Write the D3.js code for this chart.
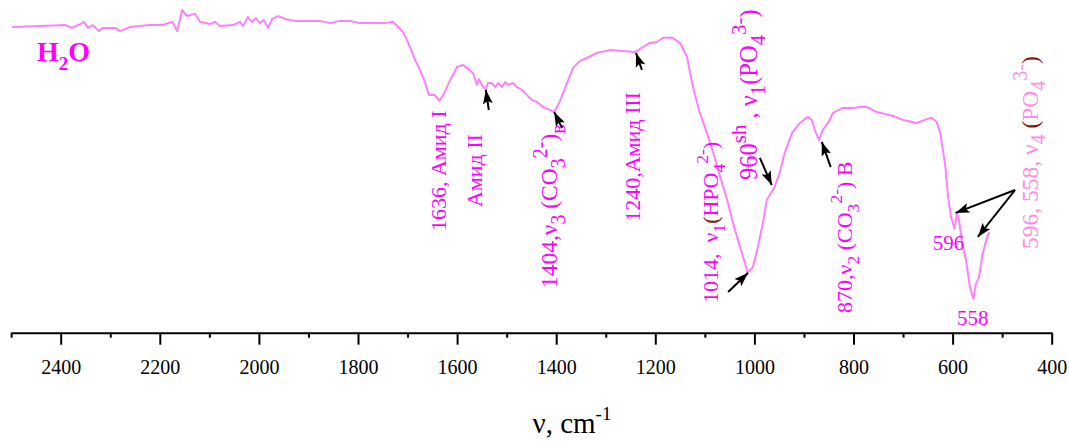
<!DOCTYPE html>
<html>
<head>
<meta charset="utf-8">
<script src="https://cdn.jsdelivr.net/npm/d3@7"></script>
<style>
  body { margin: 0; background: #fff; }
  text { font-family: "Liberation Serif", "Times New Roman", serif; white-space: pre; }
</style>
</head>
<body>
<svg id="chart" width="1069" height="441"></svg>
<script>
// IR spectrum: wavenumber (cm-1) and relative transmittance (%)
const wavenumber = [2498,2442,2391,2377,2361,2353,2345,2335,2323,2315,2290,2280,2260,2240,2220,2194,2175,2165,2155,2145,2129,2119,2099,2089,2079,2052,2038,2032,2022,2014,2006,1998,1990,1982,1973,1961,1947,1927,1877,1856,1836,1816,1796,1766,1746,1729,1719,1709,1701,1691,1685,1675,1665,1657,1645,1636,1628,1614,1600,1588,1580,1568,1560,1556,1550,1542,1538,1530,1523,1517,1509,1503,1497,1487,1479,1469,1459,1449,1439,1427,1413,1404,1393,1378,1366,1352,1338,1318,1291,1265,1240,1225,1211,1197,1184,1166,1150,1136,1124,1110,1096,1083,1069,1055,1043,1029,1019,1014,1003,993,983,975,965,960,949,939,924,908,892,884,878,870,862,848,842,822,801,787,773,753,720,700,672,652,642,632,625,615,609,603,596,591,587,581,573,565,558,553,547,540,532,526];
const transmittance = [94.7,95.0,95.3,94.4,95.6,96.3,94.4,95.3,93.4,94.4,94.4,93.4,94.7,95.0,95.3,95.3,96.3,93.4,100,98.1,98.8,96.3,95.6,96.3,95.0,95.3,96.3,95.0,97.8,96.3,97.5,95.9,96.9,94.4,97.2,98.1,97.2,96.6,96.6,95.9,96.6,96.6,95.9,95.9,95.9,96.3,94.7,93.1,90.6,86.9,84.4,81.3,77.5,73.4,73.4,71.6,73.4,78.1,82.2,82.8,81.9,80.3,76.6,78.4,76.6,75.0,77.2,77.2,75.9,77.2,75.9,77.5,76.6,77.2,75.9,75.0,73.4,71.9,71.3,69.7,68.8,68.1,71.3,77.2,81.9,84.1,85.0,86.6,87.5,87.2,86.9,88.4,89.7,90.0,91.3,91.3,89.7,85.3,75.9,67.8,61.6,55.3,47.8,40.6,33.4,25.9,20.9,17.8,19.7,25.9,33.4,40.6,43.1,44.4,49.1,55.3,61.6,64.7,66.6,65.6,62.5,59.4,62.5,65.6,67.8,69.4,69.4,69.7,69.7,68.1,66.9,65.6,64.7,65.9,66.3,65.0,61.6,51.6,41.6,35.3,31.6,36.6,34.4,27.2,21.9,13.4,9.7,14.4,16.3,23.4,28.1,30.6];

const majorTicks = [2400,2200,2000,1800,1600,1400,1200,1000,800,600,400];
const minorTicks = [2500,2300,2100,1900,1700,1500,1300,1100,900,700,500];
const axisTitle = "ν, cm";
const axisTitleSup = "-1";

const SERIF = '"Liberation Serif", "Times New Roman", serif';
const LINE = "#ff80ff", MAG = "#ff00ff", PALE = "#ff8ce6", BROWN = "#8b1010";

const svg = d3.select("#chart");
const x = d3.scaleLinear().domain([2500, 400]).range([11.15, 1051.7]);
const y = d3.scaleLinear().domain([0, 100]).range([330, 10]);
const axisY = 332.7;

// arrowhead
svg.append("defs").append("marker")
  .attr("id", "head").attr("markerUnits", "userSpaceOnUse")
  .attr("viewBox", "0 0 14 10").attr("refX", 14).attr("refY", 5)
  .attr("markerWidth", 14).attr("markerHeight", 10).attr("orient", "auto")
  .append("path").attr("d", "M0,0 L14,5 L0,10 L3,5 Z").attr("fill", "#000");

// spectrum
const pts = wavenumber.map((w, i) => [w, transmittance[i]]);
svg.append("path").datum(pts)
  .attr("fill", "none").attr("stroke", LINE).attr("stroke-width", 2)
  .attr("stroke-linejoin", "round")
  .attr("d", d3.line().x(d => x(d[0])).y(d => y(d[1])));

// axis
const gx = svg.append("g").attr("transform", `translate(0,${axisY})`);
gx.call(d3.axisBottom(x).tickValues(majorTicks).tickSize(12).tickSizeOuter(0).tickFormat(d3.format("d")));
gx.append("g").call(d3.axisBottom(x).tickValues(minorTicks).tickSize(5).tickSizeOuter(0).tickFormat(""))
  .select(".domain").remove();
gx.attr("font-family", null);
gx.selectAll("path.domain").attr("stroke", "#000").attr("stroke-width", 2);
gx.selectAll(".tick line").attr("stroke", "#000").attr("stroke-width", 2);
gx.selectAll(".tick text")
  .attr("y", 0).attr("dy", 0)
  .attr("transform", "translate(0,41) scale(0.91,1)")
  .attr("fill", "#000")
  .style("font-family", SERIF).style("font-size", "22px");

const title = svg.append("text").attr("x", 572).attr("y", 433)
  .attr("text-anchor", "middle").attr("font-size", 29).attr("fill", "#000");
title.append("tspan").text(axisTitle);
title.append("tspan").attr("dy", -13).attr("font-size", 19).text(axisTitleSup);

// rich text: parts = [text, kind, colour]
function rich(t, parts, size, color, scr) {
  let off = 0;
  parts.forEach(([str, kind = "n", col]) => {
    const target = kind === "sub" ? size * 0.32 : kind === "sup" ? -size * 0.45 : 0;
    t.append("tspan")
      .attr("dy", target - off)
      .attr("font-size", kind === "n" ? size : size * scr)
      .attr("fill", col || color)
      .text(str);
    off = target;
  });
  return t;
}
function vlabel(w, tr, parts, color = MAG, size = 22, scr = 0.8) {
  const t = svg.append("text")
    .attr("transform", `translate(${x(w)},${y(tr)}) rotate(-90)`);
  return rich(t, parts, size, color, scr);
}
function hlabel(w, tr, parts, color = MAG, size = 21, weight = "normal") {
  const t = svg.append("text").attr("x", x(w)).attr("y", y(tr)).attr("font-weight", weight);
  return rich(t, parts, size, color, 0.68);
}
function arrow(w0, t0, w1, t1) {
  svg.append("line")
    .attr("x1", x(w0)).attr("y1", y(t0)).attr("x2", x(w1)).attr("y2", y(t1))
    .attr("stroke", "#000").attr("stroke-width", 2).attr("marker-end", "url(#head)");
}

hlabel(2448, 84, [["H"], ["2", "sub"], ["O"]], MAG, 28, "bold");

vlabel(1622, 30.9, [["1636, Амид I"]]);
vlabel(1550, 38.4, [["Амид II"]]);
vlabel(1398, 13.1, [["1404,ν"], ["3", "sub"], [" (CO"], ["3", "sub"], ["2-", "sup"], [")"], ["в", "sub"]], MAG, 23.5, 0.85);
vlabel(1231, 33.8, [["1240,Амид III"]]);
vlabel(1073, 8.4, [["1014,  ν"], ["1", "sub"], ["(", "n", BROWN], ["HPO"], ["4", "sub"], ["2-", "sup"], [")"]]);
vlabel(995, 46.9, [["960"], ["sh", "sup"], [" , ν"], ["1", "sub"], ["(PO"], ["4", "sub"], ["3-", "sup"], [")"]], MAG, 24.5, 0.85);
vlabel(803, 5.3, [["870,ν"], ["2", "sub"], [" (CO"], ["3", "sub"], ["2-", "sup"], [") B"]]);
vlabel(428, 25.3, [["596, 558, ν"], ["4", "sub"], [" "], ["(", "n", BROWN], ["PO"], ["4", "sub"], ["3-", "sup"], [")", "n", BROWN]], PALE, 23.5, 0.85);

hlabel(640, 25, [["596"]]);
hlabel(591, 1.6, [["558"]]);

arrow(1536, 68.75, 1542, 75);
arrow(1388, 63.1, 1404, 68.1);
arrow(1227, 81.3, 1239, 86.6);
arrow(1053, 11.9, 1013, 17.8);
arrow(989, 53.8, 965, 45.3);
arrow(846, 50.9, 864, 58.8);
arrow(474, 43.75, 594, 36.6);
arrow(474, 43.75, 549, 29.1);
</script>
</body>
</html>
